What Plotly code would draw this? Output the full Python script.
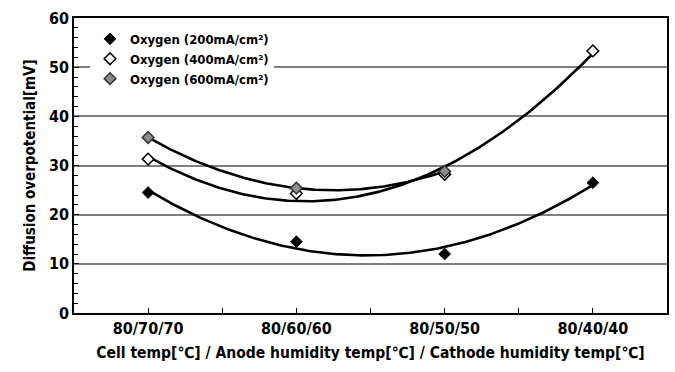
import numpy as np
import plotly.graph_objects as go

categories = ["80/70/70", "80/60/60", "80/50/50", "80/40/40"]
oxygen_200 = [24.5, 14.5, 12.0, 26.5]
oxygen_400 = [31.3, 24.3, 28.2, 53.3]
oxygen_600 = [35.7, 25.4, 28.8]

series = [
    ("Oxygen (200mA/cm²)", oxygen_200, dict(color="black", line=dict(color="black", width=1))),
    ("Oxygen (400mA/cm²)", oxygen_400, dict(color="white", line=dict(color="black", width=1.5))),
    ("Oxygen (600mA/cm²)", oxygen_600, dict(color="#8c8c8c", line=dict(color="#333333", width=1.5))),
]

FONT = "Liberation Sans Narrow, DejaVu Sans Condensed, Arial Narrow, sans-serif"

fig = go.Figure()

# quadratic trendlines fitted to each series
for name, vals, mk in series:
    xs = np.arange(len(vals))
    coef = np.polyfit(xs, vals, 2)
    xf = np.linspace(0, len(vals) - 1, 200)
    fig.add_trace(go.Scatter(x=xf, y=np.polyval(coef, xf), mode="lines",
                             line=dict(color="black", width=2.6), showlegend=False,
                             hoverinfo="skip"))

for name, vals, mk in series:
    fig.add_trace(go.Scatter(x=list(range(len(vals))), y=vals, mode="markers", name=name,
                             marker=dict(symbol="diamond", size=9, **mk)))

fig.update_layout(
    width=675, height=372,
    margin=dict(l=74, r=6, t=18, b=59),
    paper_bgcolor="white", plot_bgcolor="white",
    font=dict(family=FONT, color="black"),
    legend=dict(x=0.027, y=0.98, xanchor="left", yanchor="top", bgcolor="white",
                font=dict(size=13, family=FONT, weight="bold"), tracegroupgap=0,
                itemwidth=30),
)

fig.update_xaxes(
    range=[-0.5, 3.5], tickmode="array", tickvals=list(range(len(categories))),
    ticktext=categories, ticks="inside", ticklen=5, tickcolor="black",
    showgrid=False, zeroline=False, showline=True, linecolor="black", linewidth=1.5,
    mirror=True,
    tickfont=dict(size=16, family=FONT, weight="bold"),
    minor=dict(tickvals=[0.5, 1.5, 2.5], ticks="inside", ticklen=5, tickcolor="black"),
    title=dict(text="Cell temp[℃] / Anode humidity temp[℃] / Cathode humidity temp[℃]",
               font=dict(size=15.5, family=FONT, weight="bold"), standoff=10),
)

fig.update_yaxes(
    range=[0, 60], dtick=10, ticks="inside", ticklen=5, tickcolor="black",
    showgrid=True, gridcolor="#7f7f7f", gridwidth=1.5, zeroline=False,
    showline=True, linecolor="black", linewidth=1.5, mirror=True,
    tickfont=dict(size=16, family=FONT, weight="bold"),
    minor=dict(dtick=2, ticks="inside", ticklen=4, tickcolor="black", showgrid=False),
    title=dict(text="Diffusion overpotential[mV]",
               font=dict(size=15, family=FONT, weight="bold"), standoff=10),
)

fig.write_html("out.html")
